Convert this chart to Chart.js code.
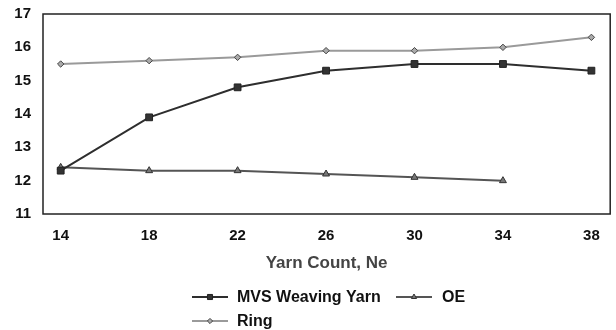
<!DOCTYPE html>
<html>
<head>
<meta charset="utf-8">
<script src="https://cdn.jsdelivr.net/npm/chart.js@4"></script>
<style>
  html, body { margin: 0; padding: 0; background: #fff; }
  #wrap { width: 616px; height: 330px; }
</style>
</head>
<body>
<div id="wrap"><canvas id="yarnChart" width="616" height="330"></canvas></div>
<script>
const yarnCounts = [14, 18, 22, 26, 30, 34, 38];
const mvsValues = [12.3, 13.9, 14.8, 15.3, 15.5, 15.5, 15.3];
const oeValues = [12.4, 12.3, 12.3, 12.2, 12.1, 12.0];
const ringValues = [15.5, 15.6, 15.7, 15.9, 15.9, 16.0, 16.3];
const yTicks = [11, 12, 13, 14, 15, 16, 17];

const FONT = '"Liberation Sans", Arial, sans-serif';

function toPoints(values) {
    return values.map((v, i) => ({ x: yarnCounts[i], y: v }));
}

const seriesStyle = [
    { label: 'MVS Weaving Yarn', data: toPoints(mvsValues), borderColor: '#2e2e2e', pointStyle: 'rect',
      pointRadius: 4.8, pointBackgroundColor: '#333', pointBorderColor: '#222', legendRadius: 3.6 },
    { label: 'OE', data: toPoints(oeValues), borderColor: '#555', pointStyle: 'triangle',
      pointRadius: 4, pointBackgroundColor: '#777', pointBorderColor: '#333', legendRadius: 3 },
    { label: 'Ring', data: toPoints(ringValues), borderColor: '#9a9a9a', pointStyle: 'rectRot',
      pointRadius: 3.2, pointBackgroundColor: '#aaa', pointBorderColor: '#444', legendRadius: 2.6 }
];

// box around the plot area
const frame = {
    id: 'frame',
    afterDatasetsDraw(chart) {
        const { ctx, chartArea: a } = chart;
        ctx.save();
        ctx.strokeStyle = '#222';
        ctx.lineWidth = 1.5;
        ctx.strokeRect(a.left, a.top, a.right - a.left, a.bottom - a.top);
        ctx.restore();
    }
};

// legend laid out like the original (two rows, left aligned)
const legendSpots = [
    { line: 192, text: 237, y: 297 },
    { line: 396, text: 442, y: 297 },
    { line: 192, text: 237, y: 321 }
];
const customLegend = {
    id: 'customLegend',
    afterDraw(chart) {
        const ctx = chart.ctx;
        ctx.save();
        chart.data.datasets.forEach((ds, i) => {
            const s = legendSpots[i];
            ctx.strokeStyle = ds.borderColor;
            ctx.lineWidth = 2;
            ctx.beginPath();
            ctx.moveTo(s.line, s.y);
            ctx.lineTo(s.line + 36, s.y);
            ctx.stroke();
            ctx.fillStyle = ds.pointBackgroundColor;
            ctx.strokeStyle = ds.pointBorderColor;
            ctx.lineWidth = 1;
            Chart.helpers.drawPoint(ctx, {
                pointStyle: ds.pointStyle,
                radius: ds.legendRadius,
                rotation: 0,
                borderWidth: 1
            }, s.line + 18, s.y);
            ctx.fillStyle = '#111';
            ctx.font = 'bold 16px ' + FONT;
            ctx.textBaseline = 'middle';
            ctx.textAlign = 'left';
            ctx.fillText(ds.label, s.text, s.y + 1);
        });
        ctx.restore();
    }
};

new Chart(document.getElementById('yarnChart'), {
    type: 'line',
    data: {
        datasets: seriesStyle.map(s => Object.assign({
            borderWidth: 2,
            pointBorderWidth: 1,
            tension: 0,
            fill: false
        }, s))
    },
    options: {
        responsive: false,
        animation: false,
        layout: { padding: { top: 14, right: 2, bottom: 56, left: 0 } },
        plugins: {
            legend: { display: false },
            tooltip: { enabled: false }
        },
        scales: {
            x: {
                type: 'linear',
                min: 13.2,
                max: 38.85,
                afterBuildTicks: scale => { scale.ticks = yarnCounts.map(v => ({ value: v })); },
                afterFit: scale => { scale.height = 60; },
                grid: { display: false, drawTicks: false },
                border: { display: false },
                ticks: {
                    padding: 13,
                    color: '#111',
                    font: { family: FONT, size: 15, weight: 'bold' },
                    maxRotation: 0,
                    autoSkip: false
                },
                title: {
                    display: true,
                    text: 'Yarn Count, Ne',
                    color: '#444',
                    font: { family: FONT, size: 17, weight: 'bold' },
                    padding: { top: 4, bottom: 0 }
                }
            },
            y: {
                min: 11,
                max: 17,
                afterBuildTicks: scale => { scale.ticks = yTicks.map(v => ({ value: v })); },
                afterFit: scale => { scale.width = 43; },
                grid: {
                    display: true,
                    drawOnChartArea: false,
                    drawTicks: true,
                    tickLength: 9,
                    color: 'transparent',
                    tickColor: 'transparent'
                },
                border: { display: false },
                ticks: {
                    padding: 3,
                    color: '#111',
                    font: { family: FONT, size: 15, weight: 'bold' }
                }
            }
        }
    },
    plugins: [frame, customLegend]
});
</script>
</body>
</html>
